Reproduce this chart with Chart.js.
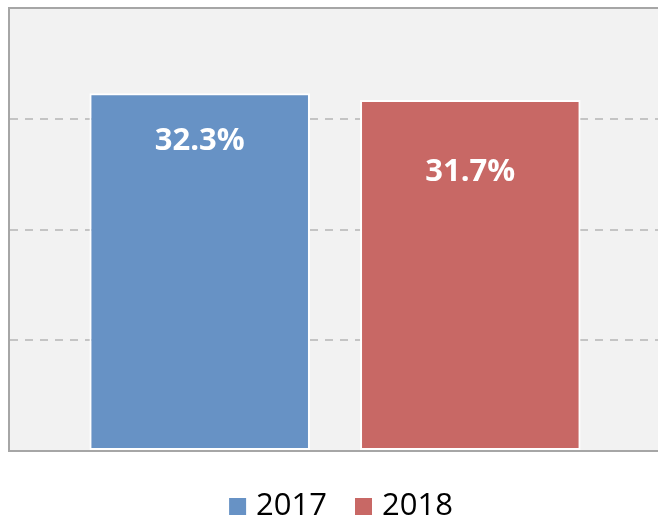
<!DOCTYPE html>
<html>
<head>
<meta charset="utf-8">
<script src="https://cdn.jsdelivr.net/npm/chart.js@4.4.0/dist/chart.umd.min.js"></script>
<style>
  html, body { margin: 0; padding: 0; background: #fff; }
  #wrap { width: 658px; height: 519px; overflow: hidden; position: relative; }
</style>
</head>
<body>
<div id="wrap"><canvas id="chart1" width="670" height="519"></canvas></div>
<script>
// data
const categories = [''];
const years = ['2017', '2018'];
const values = [32.3, 31.7];
const colors = ['rgb(103, 146, 197)', 'rgb(200, 104, 101)'];

// label drop below the bar top, per bar
const labelDrop = [48, 72];

const plotBg = {
  id: 'plotBg',
  beforeDraw(chart) {
    const a = chart.chartArea, c = chart.ctx;
    c.save();
    c.fillStyle = '#f2f2f2';
    c.fillRect(a.left, a.top, a.right - a.left, a.bottom - a.top);
    c.restore();
  },
  afterDatasetsDraw(chart) {
    const a = chart.chartArea, c = chart.ctx;
    c.save();
    c.strokeStyle = '#a6a6a6';
    c.lineWidth = 2;
    c.beginPath();
    c.moveTo(a.left, a.top);
    c.lineTo(a.right, a.top);
    c.stroke();
    // value labels
    c.fillStyle = '#ffffff';
    c.font = 'bold 31px "Open Sans"';
    c.textAlign = 'center';
    c.textBaseline = 'middle';
    chart.data.datasets.forEach(function(ds, i) {
      const bar = chart.getDatasetMeta(i).data[0];
      c.fillText(ds.data[0].toFixed(1) + '%', bar.x, bar.y + labelDrop[i]);
    });
    // legend
    c.font = '31px "Open Sans"';
    c.textAlign = 'left';
    const box = 17, gap = 10, between = 28, cy = 506;
    const widths = chart.data.datasets.map(function(ds) { return c.measureText(ds.label).width; });
    let total = 0;
    widths.forEach(function(w) { total += box + gap + w; });
    total += between * (widths.length - 1);
    let x = 341 - total / 2;
    chart.data.datasets.forEach(function(ds, i) {
      c.fillStyle = ds.backgroundColor;
      c.fillRect(x, cy - 8, box, box);
      c.fillStyle = '#000000';
      c.fillText(ds.label, x + box + gap, cy);
      x += box + gap + widths[i] + between;
    });
    c.restore();
  }
};

const chart1 = new Chart(document.getElementById('chart1'), {
  type: 'bar',
  data: {
    labels: categories,
    datasets: years.map(function(y, i) {
      return {
        label: y,
        data: [values[i]],
        backgroundColor: colors[i],
        borderColor: '#ffffff',
        borderWidth: 2,
        borderSkipped: false,
        categoryPercentage: 0.83,
        barPercentage: 0.815
      };
    })
  },
  options: {
    responsive: false,
    animation: false,
    layout: { padding: { left: 9, right: 9, top: 8, bottom: 60 } },
    plugins: {
      tooltip: { enabled: false },
      legend: { display: false }
    },
    scales: {
      x: {
        grid: { display: false },
        ticks: { display: false },
        border: { display: true, color: '#a6a6a6', width: 2 }
      },
      y: {
        min: 0,
        max: 40,
        ticks: { display: false, stepSize: 10 },
        grid: {
          color: function(ctx) {
            const v = ctx.tick && ctx.tick.value;
            return (v === 0 || v === 40) ? 'rgba(0,0,0,0)' : '#c4c4c4';
          },
          lineWidth: 2,
          drawTicks: false
        },
        border: { display: true, color: '#a6a6a6', width: 2, dash: [8, 7] }
      }
    }
  },
  plugins: [plotBg]
});
</script>
</body>
</html>
